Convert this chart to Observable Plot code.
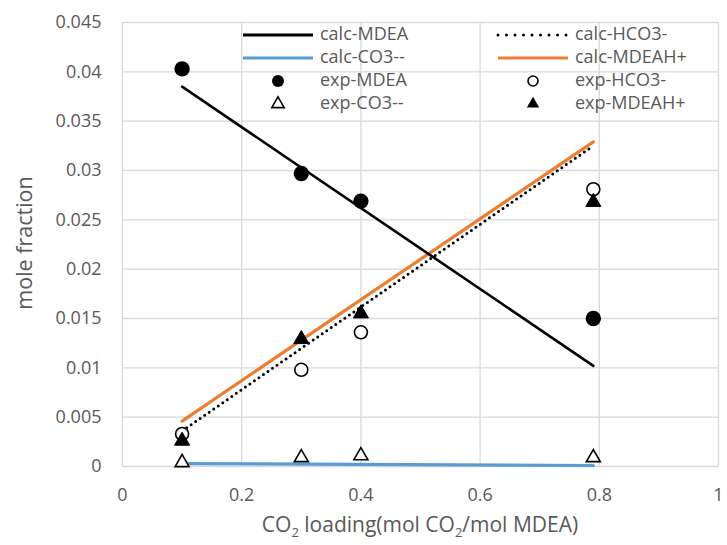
<!DOCTYPE html>
<html>
<head>
<meta charset="utf-8">
<script src="https://cdn.jsdelivr.net/npm/d3@7"></script>
<script src="https://cdn.jsdelivr.net/npm/@observablehq/plot@0.6"></script>
<style>
  body { margin: 0; background: #fff; }
  #chart { width: 727px; height: 545px; }
</style>
</head>
<body>
<div id="chart"></div>
<script>
// ---- data ----
const loading = [0.1, 0.3, 0.4, 0.79];
const calcX = [0.1, 0.79];
const calcMDEA = [0.0385, 0.0102];
const calcHCO3 = [0.0036, 0.0325];
const calcCO3 = [0.0003, 0.0001];
const calcMDEAH = [0.0046, 0.0329];
const expMDEA = [0.0403, 0.0297, 0.0269, 0.0150];
const expHCO3 = [0.0033, 0.0098, 0.0136, 0.0281];
const expCO3 = [0.0004, 0.0009, 0.0011, 0.0009];
const expMDEAH = [0.0026, 0.0129, 0.0155, 0.0268];
const xTicks = [0, 0.2, 0.4, 0.6, 0.8, 1];
const yTicks = [0, 0.005, 0.01, 0.015, 0.02, 0.025, 0.03, 0.035, 0.04, 0.045];

const toRows = (xs, ys) => xs.map((x, i) => ({x, y: ys[i]}));
const fmt = d => String(+d.toFixed(3));
const grey = "#595959";
const font = "'Open Sans', 'Liberation Sans', sans-serif";

const plot = Plot.plot({
  width: 727,
  height: 545,
  marginLeft: 122,
  marginRight: 9,
  marginTop: 22,
  marginBottom: 79,
  style: {fontFamily: font, background: "#fff"},
  x: {domain: [0, 1]},
  y: {domain: [0, 0.045]},
  marks: [
    Plot.gridX(xTicks, {stroke: "#d9d9d9", strokeOpacity: 1, strokeWidth: 1.3}),
    Plot.gridY(yTicks, {stroke: "#d9d9d9", strokeOpacity: 1, strokeWidth: 1.3}),
    Plot.axisX(xTicks, {tickSize: 0, tickPadding: 22, tickFormat: fmt, fontSize: 18, fill: grey, label: null}),
    Plot.axisY(yTicks, {tickSize: 0, tickPadding: 21, tickFormat: fmt, fontSize: 18, fill: grey, label: null}),
    Plot.line(toRows(calcX, calcCO3), {x: "x", y: "y", stroke: "#5b9bd5", strokeWidth: 3.2}),
    Plot.line(toRows(calcX, calcMDEAH), {x: "x", y: "y", stroke: "#ed7d31", strokeWidth: 3.2}),
    Plot.line(toRows(calcX, calcHCO3), {x: "x", y: "y", stroke: "#000", strokeWidth: 3, strokeDasharray: "0,5.5", strokeLinecap: "round"}),
    Plot.line(toRows(calcX, calcMDEA), {x: "x", y: "y", stroke: "#000", strokeWidth: 2.6}),
    Plot.dot(toRows(loading, expMDEA), {x: "x", y: "y", r: 7.7, fill: "#000", stroke: "none"}),
    Plot.dot(toRows(loading, expHCO3), {x: "x", y: "y", r: 6.5, fill: "#fff", stroke: "#000", strokeWidth: 1.6}),
    Plot.dot(toRows(loading, expCO3), {x: "x", y: "y", r: 5.2, symbol: "triangle", fill: "#fff", stroke: "#000", strokeWidth: 1.6}),
    Plot.dot(toRows(loading, expMDEAH), {x: "x", y: "y", r: 5.6, symbol: "triangle", fill: "#000", stroke: "#000", strokeWidth: 1})
  ]
});

document.getElementById("chart").appendChild(plot);

// ---- titles and legend ----
const svg = d3.select(plot);
svg.append("text")
  .attr("transform", "translate(26,243) rotate(-90)")
  .attr("text-anchor", "middle").attr("dominant-baseline", "middle")
  .style("fill", grey).style("font-size", "21.5px").style("font-family", font)
  .text("mole fraction");

const xt = svg.append("text")
  .attr("x", 420).attr("y", 532).attr("text-anchor", "middle")
  .style("fill", grey).style("font-size", "21px").style("font-family", font);
xt.append("tspan").text("CO");
xt.append("tspan").style("font-size", "13px").attr("dy", 5).text("2");
xt.append("tspan").attr("dy", -5).text(" loading(mol CO");
xt.append("tspan").style("font-size", "13px").attr("dy", 5).text("2");
xt.append("tspan").attr("dy", -5).text("/mol MDEA)");

const legendNames = ["calc-MDEA", "calc-HCO3-", "calc-CO3--", "calc-MDEAH+", "exp-MDEA", "exp-HCO3-", "exp-CO3--", "exp-MDEAH+"];
const lg = svg.append("g");
legendNames.forEach((name, i) => {
  const col = i % 2, row = Math.floor(i / 2);
  const x0 = col === 0 ? 243 : 498;
  const y = 35 + row * 23;
  const g = lg.append("g");
  if (row < 2) {
    const ln = g.append("line").attr("x1", x0).attr("x2", x0 + 70).attr("y1", y).attr("y2", y);
    if (i === 0) ln.attr("stroke", "#000").attr("stroke-width", 2.8);
    if (i === 1) ln.attr("stroke", "#000").attr("stroke-width", 3).attr("stroke-dasharray", "0,8.5").attr("stroke-linecap", "round");
    if (i === 2) ln.attr("stroke", "#5b9bd5").attr("stroke-width", 3.2);
    if (i === 3) ln.attr("stroke", "#ed7d31").attr("stroke-width", 3.2);
  } else {
    const cx = x0 + 35;
    if (i === 4) g.append("circle").attr("cx", cx).attr("cy", y).attr("r", 6).attr("fill", "#000");
    if (i === 5) g.append("circle").attr("cx", cx).attr("cy", y).attr("r", 5).attr("fill", "#fff").attr("stroke", "#000").attr("stroke-width", 1.6);
    const tri = d3.symbol(d3.symbolTriangle, Math.PI * 4.6 * 4.6)();
    if (i === 6) g.append("path").attr("d", tri).attr("transform", `translate(${cx},${y})`).attr("fill", "#fff").attr("stroke", "#000").attr("stroke-width", 1.6);
    if (i === 7) g.append("path").attr("d", tri).attr("transform", `translate(${cx},${y})`).attr("fill", "#000");
  }
  g.append("text").attr("x", x0 + 77).attr("y", y)
    .attr("dominant-baseline", "middle")
    .style("text-anchor", "start").style("font-size", "18px").style("font-family", font).style("fill", grey)
    .text(name);
});
</script>
</body>
</html>
